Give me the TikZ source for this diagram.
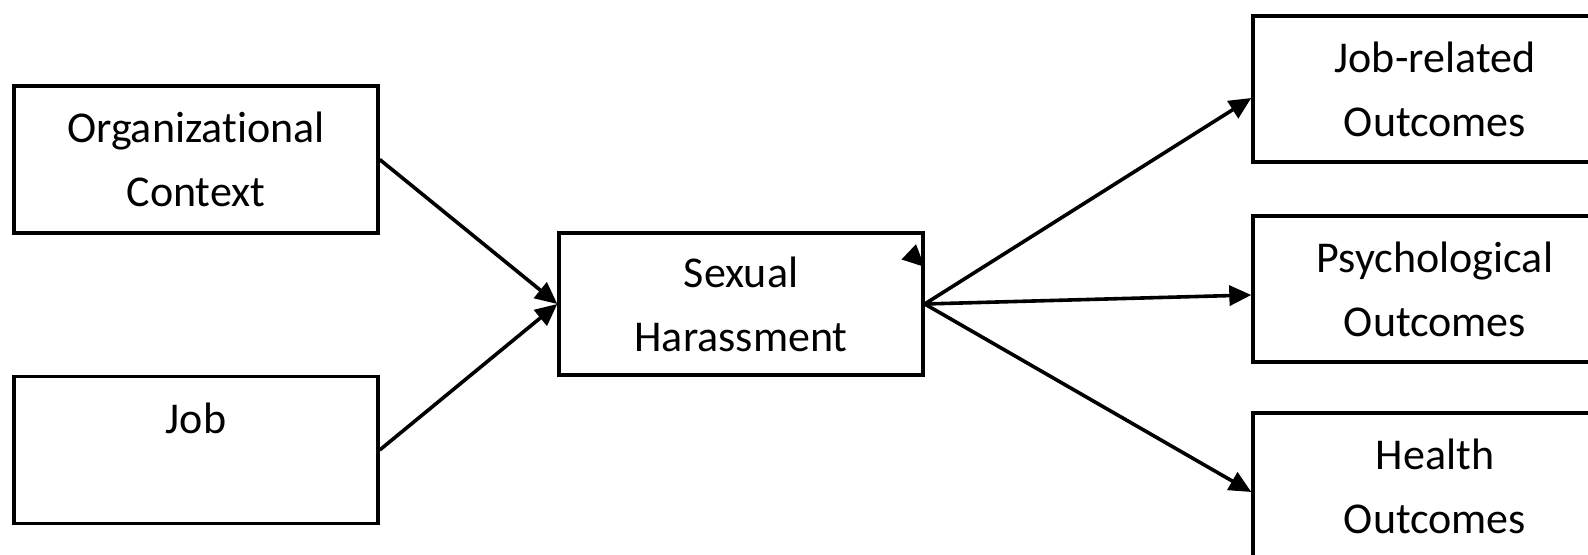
\documentclass[tikz,border=0pt]{standalone}
\usepackage{fontspec}
\setmainfont{Carlito}[Ligatures=NoCommon]
\usetikzlibrary{arrows.meta}

\begin{document}
\begin{tikzpicture}[x=0.5pt,y=-0.5pt,
  box/.style={draw=black,line width=1.7pt,align=center,inner sep=0pt,
    minimum width=182pt,font=\fontsize{22}{32}\selectfont},
  arr/.style={draw=black,line width=1.8pt,-{Triangle[length=11pt,width=10pt]}}]
\clip (0,0) rectangle (1588,555);
\fill[white] (0,0) rectangle (1588,555);
% left side
\node[box,minimum height=73.5pt] (org) at (196,159.5) {Organizational\\Context};
\node[box,minimum height=73.5pt] (job) at (196,450) {Job\\~};
% middle
\node[box,minimum height=71pt] (harass) at (741,304) {Sexual\\Harassment};
% right side
\node[box,minimum height=73pt] (jobout) at (1435,89) {Job-related\\Outcomes};
\node[box,minimum height=73pt] (psyout) at (1435,289) {Psychological\\Outcomes};
\node[box,minimum height=73pt] (healthout) at (1435,486) {Health\\Outcomes};
\coordinate (stray) at ([xshift=-10pt,yshift=28pt]harass.east);
\coordinate (straytip) at ([yshift=18.5pt]harass.east);
% connectors
\draw[arr] (org.east) -- (harass.west);
\draw[arr] (job.east) -- (harass.west);
\draw[arr] (harass.east) -- ([yshift=-4.5pt]jobout.west);
\draw[arr] (harass.east) -- ([yshift=-3pt]psyout.west);
\draw[arr] (harass.east) -- ([yshift=-3pt]healthout.west);
\draw[arr,shorten <=9pt] (stray) -- (straytip);
\end{tikzpicture}
\end{document}
